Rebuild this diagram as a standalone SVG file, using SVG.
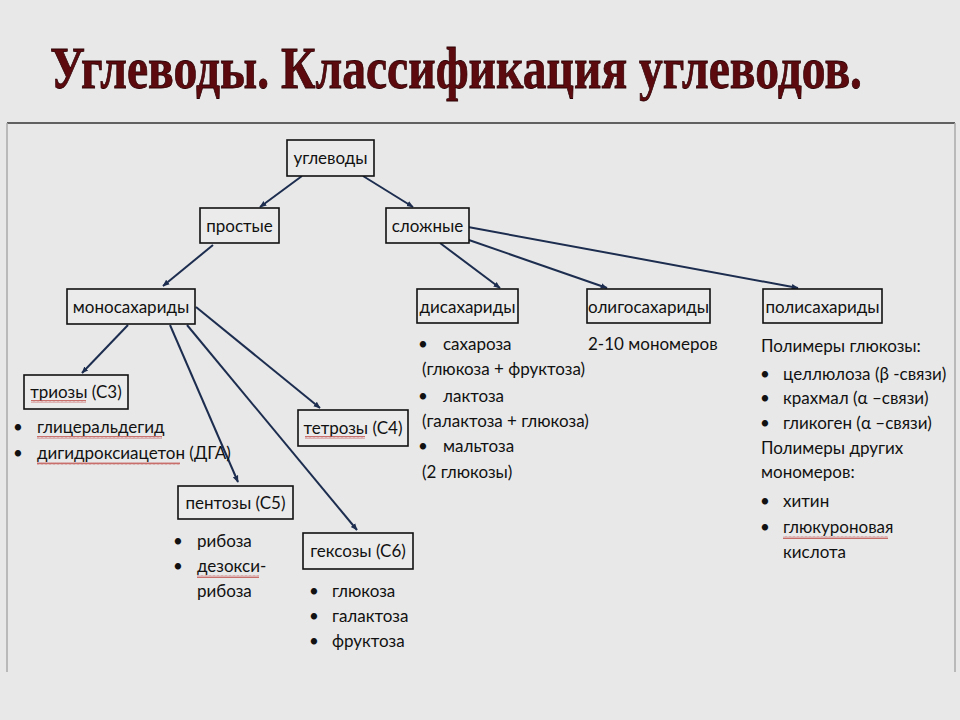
<svg xmlns="http://www.w3.org/2000/svg" width="960" height="720" viewBox="0 0 960 720">
<defs>
<marker id="ah" viewBox="0 0 10 10" refX="9" refY="5" markerWidth="7" markerHeight="7" orient="auto" markerUnits="userSpaceOnUse">
<path d="M0,1 L10,5 L0,9 z" fill="#1c2d4f"/>
</marker>
<pattern id="wave" width="4" height="3" patternUnits="userSpaceOnUse">
<path d="M0,2.5 L1,0.5 L2,2.5 L3,0.5 L4,2.5" fill="none" stroke="#c0504d" stroke-width="0.8"/>
</pattern>
<style>
.box{fill:#ebebeb;stroke:#111;stroke-width:1.6}
.lbl{font-family:Lato,"Liberation Sans",sans-serif;font-size:17px;fill:#111}
.mid{text-anchor:middle}
.c{fill:none;stroke:#1c2d4f;stroke-width:2;marker-end:url(#ah)}
.sq{fill:url(#wave)}
</style>
</defs>
<rect width="960" height="720" fill="#e8e8e8"/>
<line x1="7" y1="123" x2="955" y2="123" stroke="#333" stroke-width="1.5"/>
<line x1="7" y1="123" x2="7" y2="672" stroke="#aaa" stroke-width="1.5"/>
<line x1="955" y1="123" x2="955" y2="672" stroke="#aaa" stroke-width="1.5"/>
<text x="50" y="88" font-family="'Liberation Serif',serif" font-weight="bold" font-size="60" fill="#5c0a0e" stroke="#2a0004" stroke-width="0.8" textLength="812" lengthAdjust="spacingAndGlyphs">Углеводы. Классификация углеводов.</text>

<g id="connectors">
<line class="c" x1="302" y1="176" x2="260" y2="207"/>
<line class="c" x1="363" y1="176" x2="413" y2="207"/>
<line class="c" x1="213" y1="245" x2="163" y2="286"/>
<line class="c" x1="440" y1="243" x2="500" y2="288"/>
<line class="c" x1="466" y1="239" x2="607" y2="288"/>
<line class="c" x1="468" y1="227" x2="798" y2="288"/>
<line class="c" x1="128" y1="325" x2="82" y2="373"/>
<line class="c" x1="170" y1="325" x2="238" y2="482"/>
<line class="c" x1="187" y1="325" x2="357" y2="530"/>
<line class="c" x1="196" y1="307" x2="320" y2="408"/>
</g>

<g id="n-uglevody"><rect class="box" x="287" y="140" width="87" height="36"/><text class="lbl mid" x="330.5" y="164">углеводы</text></g>
<g id="n-prostye"><rect class="box" x="200" y="208" width="79" height="35"/><text class="lbl mid" x="239.5" y="232">простые</text></g>
<g id="n-slozhnye"><rect class="box" x="386" y="208" width="83" height="35"/><text class="lbl mid" x="427.5" y="232">сложные</text></g>
<g id="n-mono"><rect class="box" x="67" y="289" width="128" height="35"/><text class="lbl mid" x="131" y="313">моносахариды</text></g>
<g id="n-di"><rect class="box" x="417" y="289" width="101" height="34"/><text class="lbl mid" x="467.5" y="313">дисахариды</text></g>
<g id="n-oligo"><rect class="box" x="587" y="289" width="123" height="34"/><text class="lbl mid" x="648.5" y="313">олигосахариды</text></g>
<g id="n-poly"><rect class="box" x="763" y="289" width="119" height="34"/><text class="lbl mid" x="822.5" y="313">полисахариды</text></g>
<g id="n-triozy"><rect class="box" x="24" y="375" width="104" height="34"/><text class="lbl mid" x="76" y="398">триозы (С3)</text><rect class="sq" x="31" y="400" width="55" height="3"/></g>
<g id="n-tetrozy"><rect class="box" x="298" y="410" width="110" height="36"/><text class="lbl mid" x="353" y="434">тетрозы (С4)</text><rect class="sq" x="305" y="436" width="60" height="3"/></g>
<g id="n-pentozy"><rect class="box" x="178" y="486" width="115" height="33"/><text class="lbl mid" x="235.5" y="509">пентозы (С5)</text></g>
<g id="n-geksozy"><rect class="box" x="303" y="533" width="110" height="36"/><text class="lbl mid" x="358" y="557">гексозы (С6)</text></g>

<g id="list-triozy" class="lbl">
<text x="13" y="433">•</text><text x="37" y="433">глицеральдегид</text>
<text x="13" y="459">•</text><text x="37" y="459">дигидроксиацетон (ДГА)</text>
<rect class="sq" x="37" y="436" width="125" height="3"/>
<rect class="sq" x="37" y="462" width="143" height="3"/>
</g>
<g id="list-pentozy" class="lbl">
<text x="173" y="547">•</text><text x="197" y="547">рибоза</text>
<text x="173" y="572">•</text><text x="197" y="572">дезокси-</text>
<text x="197" y="597">рибоза</text>
<rect class="sq" x="197" y="575" width="62" height="3"/>
</g>
<g id="list-geksozy" class="lbl">
<text x="309" y="597">•</text><text x="332" y="597">глюкоза</text>
<text x="309" y="622">•</text><text x="332" y="622">галактоза</text>
<text x="309" y="647">•</text><text x="332" y="647">фруктоза</text>
</g>
<g id="list-di" class="lbl">
<text x="418" y="350">•</text><text x="443" y="350">сахароза</text>
<text x="422" y="375">(глюкоза + фруктоза)</text>
<text x="418" y="402">•</text><text x="443" y="402">лактоза</text>
<text x="422" y="427">(галактоза + глюкоза)</text>
<text x="418" y="452">•</text><text x="443" y="452">мальтоза</text>
<text x="422" y="478">(2 глюкозы)</text>
</g>
<g id="list-oligo" class="lbl"><text x="588" y="350">2-10 мономеров</text></g>
<g id="list-poly" class="lbl">
<text x="761" y="352">Полимеры глюкозы:</text>
<text x="760" y="380">•</text><text x="783" y="380">целлюлоза (β -связи)</text>
<text x="760" y="404">•</text><text x="783" y="404">крахмал (α –связи)</text>
<text x="760" y="429">•</text><text x="783" y="429">гликоген (α –связи)</text>
<text x="761" y="454">Полимеры других</text>
<text x="761" y="478">мономеров:</text>
<text x="760" y="507">•</text><text x="783" y="507">хитин</text>
<text x="760" y="533">•</text><text x="783" y="533">глюкуроновая</text>
<text x="783" y="558">кислота</text>
<rect class="sq" x="783" y="536" width="105" height="3"/>
</g>
</svg>
